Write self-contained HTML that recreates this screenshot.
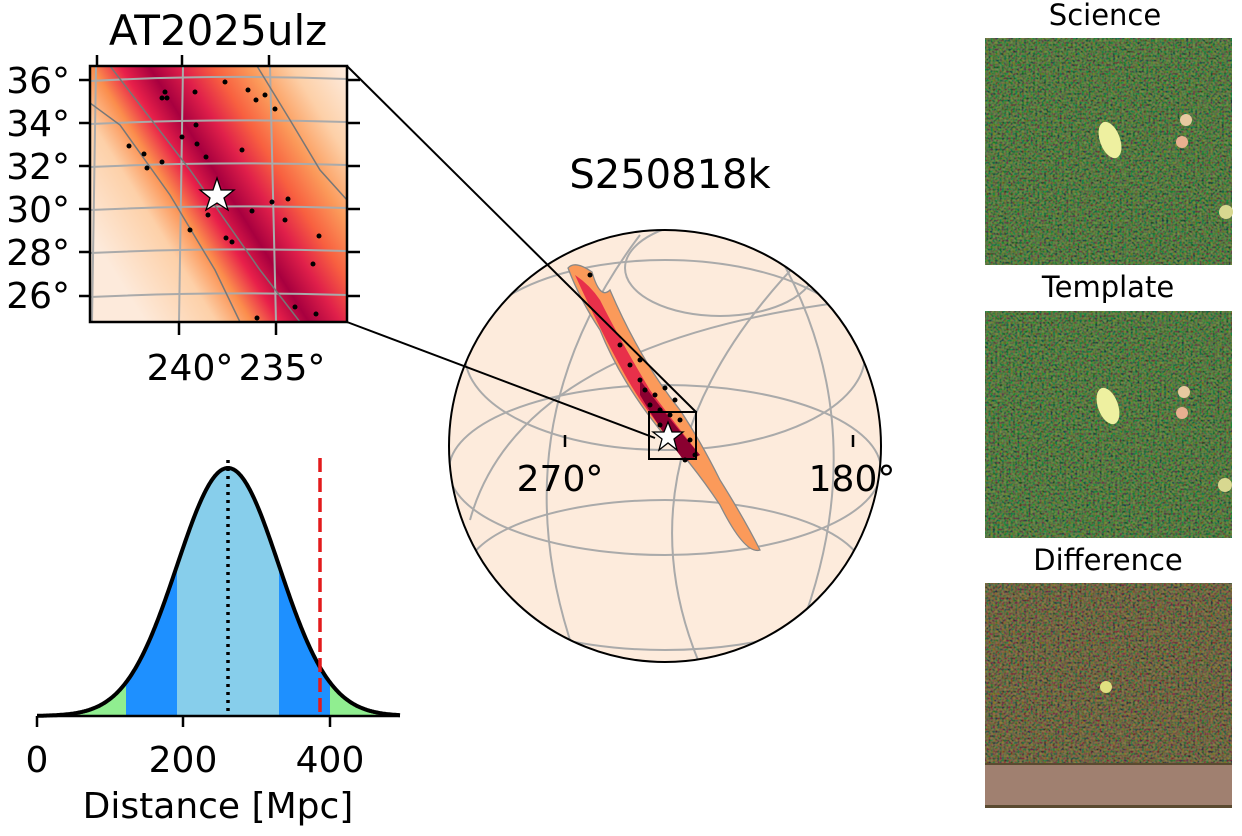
<!DOCTYPE html>
<html><head><meta charset="utf-8"><style>
body{margin:0;background:#fff;width:1242px;height:831px;overflow:hidden}
text{font-family:"DejaVu Sans","Liberation Sans",sans-serif}
</style></head><body>
<svg id="s" width="1242" height="831" viewBox="0 0 1242 831" xmlns="http://www.w3.org/2000/svg">
<defs>
<clipPath id="ic"><rect x="90" y="66" width="257" height="256"/></clipPath>
<clipPath id="gc"><circle cx="665" cy="446" r="216"/></clipPath>
<linearGradient id="band" gradientUnits="userSpaceOnUse" x1="100" y1="250" x2="356" y2="90">
<stop offset="0" stop-color="#fdeadb"/><stop offset="0.2" stop-color="#fdd0a8"/>
<stop offset="0.3" stop-color="#fb8d4c"/><stop offset="0.38" stop-color="#e8204a"/>
<stop offset="0.46" stop-color="#a8003f"/><stop offset="0.55" stop-color="#e0204a"/>
<stop offset="0.64" stop-color="#f86040"/><stop offset="0.74" stop-color="#fb9a5a"/>
<stop offset="0.86" stop-color="#fdd0a8"/><stop offset="1" stop-color="#fdeadb"/></linearGradient>
<filter id="nz" x="0" y="0" width="1" height="1"><feTurbulence type="fractalNoise" baseFrequency="0.45" numOctaves="1" seed="3"/><feColorMatrix values="1.6 0 0 0 -0.55  0 1.2 0 0 -0.35  0 0 0.4 0 -0.1  0 0 0 0 0.45"/></filter>
</defs>
<!-- inset -->
<text x="218" y="45" font-size="42" text-anchor="middle">AT2025ulz</text>
<g clip-path="url(#ic)">
<rect x="90" y="66" width="257" height="256" fill="url(#band)"/>
<g stroke="#aaa" stroke-width="2" fill="none">
<path d="M90 81 Q218 74 347 79"/><path d="M90 124 Q218 118 347 122"/><path d="M90 167 Q218 161 347 165"/>
<path d="M90 210 Q218 204 347 208"/><path d="M90 253 Q218 247 347 251"/><path d="M90 297 Q218 291 347 295"/>
<path d="M96 66 L92 322"/><path d="M183 66 L179 322"/><path d="M270 66 L276 322"/></g>
<g stroke="#777" stroke-width="1.5" fill="none"><path d="M90 103 L120 125 L170 195 L215 270 L240 322"/><path d="M257 66 L290 120 L320 170 L347 200"/><path d="M110 66 L190 170 L260 270 L300 322"/></g>
<g fill="#000"><circle cx="165" cy="92" r="2.5"/><circle cx="195" cy="92" r="2.5"/><circle cx="225" cy="82" r="2.5"/><circle cx="248" cy="90" r="2.5"/><circle cx="256" cy="100" r="2.5"/><circle cx="265" cy="95" r="2.5"/><circle cx="275" cy="109" r="2.5"/><circle cx="162" cy="98" r="2.5"/><circle cx="167" cy="98" r="2.5"/><circle cx="196" cy="125" r="2.5"/><circle cx="182" cy="137" r="2.5"/><circle cx="197" cy="144" r="2.5"/><circle cx="129" cy="146" r="2.5"/><circle cx="144" cy="154" r="2.5"/><circle cx="162" cy="162" r="2.5"/><circle cx="147" cy="168" r="2.5"/><circle cx="206" cy="157" r="2.5"/><circle cx="242" cy="150" r="2.5"/><circle cx="288" cy="199" r="2.5"/><circle cx="272" cy="202" r="2.5"/><circle cx="252" cy="211" r="2.5"/><circle cx="208" cy="215" r="2.5"/><circle cx="285" cy="220" r="2.5"/><circle cx="190" cy="230" r="2.5"/><circle cx="226" cy="238" r="2.5"/><circle cx="232" cy="242" r="2.5"/><circle cx="319" cy="236" r="2.5"/><circle cx="313" cy="264" r="2.5"/><circle cx="295" cy="307" r="2.5"/><circle cx="257" cy="318" r="2.5"/><circle cx="316" cy="314" r="2.5"/></g>
</g>
<polygon points="217,178 221,190 234,190 224,198 228,210 217,203 206,210 210,198 200,190 213,190" fill="#fff" stroke="#000" stroke-width="1.3"/>
<rect x="90" y="66" width="257" height="256" fill="none" stroke="#000" stroke-width="2.5"/>
<g stroke="#000" stroke-width="2.5"><line x1="97" y1="55" x2="97" y2="66"/><line x1="182" y1="55" x2="182" y2="66"/><line x1="269" y1="55" x2="269" y2="66"/>
<line x1="179" y1="322" x2="179" y2="335"/><line x1="276" y1="322" x2="276" y2="335"/>
<g><line x1="79" y1="80" x2="90" y2="80"/><line x1="79" y1="123" x2="90" y2="123"/><line x1="79" y1="166" x2="90" y2="166"/><line x1="79" y1="209" x2="90" y2="209"/><line x1="79" y1="252" x2="90" y2="252"/><line x1="79" y1="296" x2="90" y2="296"/></g>
<g><line x1="347" y1="80" x2="360" y2="80"/><line x1="347" y1="123" x2="360" y2="123"/><line x1="347" y1="166" x2="360" y2="166"/><line x1="347" y1="209" x2="360" y2="209"/><line x1="347" y1="252" x2="360" y2="252"/><line x1="347" y1="296" x2="360" y2="296"/></g></g>
<g font-size="36" text-anchor="end"><text x="70" y="93">36°</text><text x="70" y="136">34°</text><text x="70" y="179">32°</text><text x="70" y="222">30°</text><text x="70" y="265">28°</text><text x="70" y="308">26°</text></g>
<g font-size="36" text-anchor="middle"><text x="190" y="380">240°</text><text x="282" y="380">235°</text></g>
<!-- globe -->
<text x="670" y="188" font-size="40" text-anchor="middle">S250818k</text>
<circle cx="665" cy="446" r="216" fill="#fdebdc"/>
<g clip-path="url(#gc)" stroke="#aaa" stroke-width="2" fill="none">
<ellipse cx="720" cy="268" rx="95" ry="48"/><ellipse cx="665" cy="355" rx="200" ry="95"/><ellipse cx="665" cy="470" rx="216" ry="85"/><ellipse cx="665" cy="575" rx="200" ry="75"/>
<path d="M570 640 Q500 420 640 235"/><path d="M800 630 Q880 420 770 240"/><path d="M700 665 Q610 450 810 250"/><path d="M470 520 Q520 340 860 300"/>
</g>
<path d="M568 268 Q575 260 592 272 Q600 300 610 290 Q640 360 680 410 Q700 440 720 480 Q745 520 760 550 Q745 555 720 505 Q690 460 660 430 Q620 380 600 330 Q580 300 568 268Z" fill="#fb9a5a" stroke="#888" stroke-width="1.3"/>
<path d="M575 275 Q590 285 600 300 Q620 340 650 390 Q680 430 700 455 L690 460 Q650 420 625 375 Q600 330 575 275Z" fill="#e8304a"/>
<path d="M640 380 Q670 420 700 455 L685 462 Q660 430 640 395Z" fill="#8a0030"/>
<g fill="#000"><circle cx="590" cy="275" r="2.5"/><circle cx="620" cy="345" r="2.5"/><circle cx="630" cy="365" r="2.5"/><circle cx="640" cy="380" r="2.5"/><circle cx="645" cy="390" r="2.5"/><circle cx="655" cy="395" r="2.5"/><circle cx="650" cy="405" r="2.5"/><circle cx="660" cy="410" r="2.5"/><circle cx="670" cy="415" r="2.5"/><circle cx="680" cy="420" r="2.5"/><circle cx="690" cy="440" r="2.5"/><circle cx="695" cy="455" r="2.5"/><circle cx="685" cy="460" r="2.5"/><circle cx="660" cy="425" r="2.5"/><circle cx="675" cy="400" r="2.5"/><circle cx="640" cy="360" r="2.5"/><circle cx="665" cy="388" r="2.5"/></g>
<rect x="649" y="412" width="47" height="47" fill="none" stroke="#000" stroke-width="2"/>
<polygon points="668,422 672,432 683,432 674,439 677,450 668,443 659,450 662,439 653,432 664,432" fill="#fff" stroke="#000" stroke-width="1.3"/>
<circle cx="665" cy="446" r="216" fill="none" stroke="#000" stroke-width="2"/>
<g stroke="#000" stroke-width="2"><line x1="347" y1="66" x2="696" y2="412"/><line x1="347" y1="322" x2="655" y2="438"/></g>
<g stroke="#000" stroke-width="2.5"><line x1="565" y1="435" x2="565" y2="447"/><line x1="853" y1="435" x2="853" y2="447"/></g>
<text x="560" y="491" font-size="36" text-anchor="middle">270°</text><text x="852" y="491" font-size="36" text-anchor="middle">180°</text>
<!-- distance -->
<path id="g1" fill="#90ee90"/><path id="g2" fill="#1e90ff"/><path id="g3" fill="#87ceeb"/>
<path id="gl" fill="none" stroke="#000" stroke-width="4" stroke-linejoin="round"/>
<line x1="228" y1="460" x2="228" y2="716" stroke="#000" stroke-width="3.5" stroke-dasharray="3,5"/>
<line x1="320" y1="458" x2="320" y2="716" stroke="#e31a1c" stroke-width="3.5" stroke-dasharray="14,6"/>
<line x1="37" y1="716" x2="400" y2="716" stroke="#000" stroke-width="2.5"/>
<g stroke="#000" stroke-width="2.5"><line x1="37" y1="716" x2="37" y2="727"/><line x1="183" y1="716" x2="183" y2="727"/><line x1="330" y1="716" x2="330" y2="727"/></g>
<g font-size="36" text-anchor="middle"><text x="37" y="772">0</text><text x="183" y="772">200</text><text x="330" y="772">400</text><text x="218" y="818">Distance [Mpc]</text></g>
<!-- images -->
<g font-size="29" text-anchor="middle"><text x="1105" y="25">Science</text><text x="1108" y="297">Template</text><text x="1108" y="570">Difference</text></g>
<rect x="985" y="38" width="247" height="227" fill="#2f6a2f"/><rect x="985" y="38" width="247" height="227" filter="url(#nz)"/>
<ellipse cx="1110" cy="140" rx="10" ry="19" transform="rotate(-20 1110 140)" fill="#eef0a0"/><circle cx="1186" cy="120" r="6" fill="#e8c9a0"/><circle cx="1182" cy="142" r="6" fill="#e8b090"/><circle cx="1226" cy="212" r="7" fill="#d8d890"/>
<rect x="985" y="311" width="247" height="227" fill="#2f6a2f"/><rect x="985" y="311" width="247" height="227" filter="url(#nz)"/>
<ellipse cx="1108" cy="406" rx="10" ry="19" transform="rotate(-20 1108 406)" fill="#eef0a0"/><circle cx="1184" cy="392" r="6" fill="#e8c9a0"/><circle cx="1182" cy="413" r="6" fill="#e8b090"/><circle cx="1225" cy="485" r="7" fill="#d8d890"/>
<rect x="985" y="583" width="247" height="225" fill="#5a4a30"/><rect x="985" y="583" width="247" height="180" filter="url(#nz)"/>
<rect x="985" y="765" width="247" height="40" fill="#a08070"/><circle cx="1106" cy="687" r="6" fill="#e0e080"/>
</svg>
<script>
function y(x){return 716-248*Math.exp(-Math.pow((x-228)/51,2)/2);}
function area(a,b){var d="M"+a+" 716";for(var x=a;x<=b;x+=1)d+=" L"+x+" "+y(x).toFixed(1);return d+" L"+b+" 716Z";}
document.getElementById("g1").setAttribute("d",area(37,400));
document.getElementById("g2").setAttribute("d",area(126,330));
document.getElementById("g3").setAttribute("d",area(177,279));
var d="M37 "+y(37).toFixed(1);for(var x=38;x<=400;x++)d+=" L"+x+" "+y(x).toFixed(1);
document.getElementById("gl").setAttribute("d",d);
</script>
</body></html>
